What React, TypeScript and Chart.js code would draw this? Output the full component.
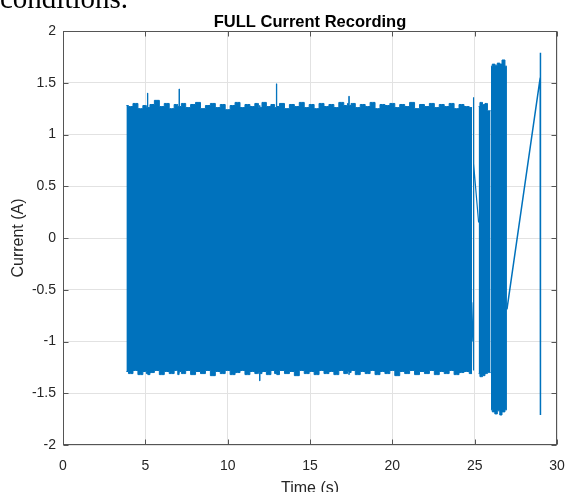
import React, { useEffect, useRef } from "react";
import { Chart, registerables } from "chart.js";

Chart.register(...registerables);

// Main oscillation block: sample times (s) with upper/lower envelope of the current (A)
const timesA = [
  3.85, 4.1, 4.4, 4.7, 5.0, 5.12, 5.14, 5.16, 5.4, 5.7, 6.0, 6.3, 6.6, 6.9, 7.04, 7.06, 7.08, 7.3, 7.6, 7.9,
  8.2, 8.5, 8.8, 9.1, 9.4, 9.7, 10.0, 10.3, 10.6, 10.9, 11.2, 11.5, 11.8, 11.93, 11.95, 11.97, 12.2, 12.5, 12.75, 12.95,
  12.97, 12.99, 13.3, 13.6, 13.9, 14.2, 14.5, 14.8, 15.1, 15.4, 15.7, 16.0, 16.3, 16.6, 16.9, 17.2, 17.35, 17.37, 17.39, 17.6,
  17.9, 18.2, 18.5, 18.8, 19.1, 19.4, 19.7, 20.0, 20.3, 20.6, 20.9, 21.2, 21.5, 21.8, 22.1, 22.4, 22.7, 23.0, 23.3, 23.6,
  23.9, 24.2, 24.5, 24.84,
];
const upperA = [
  1.28, 1.27, 1.3, 1.25, 1.28, 1.26, 1.4, 1.26, 1.29, 1.33, 1.27, 1.3, 1.25, 1.29, 1.27, 1.44, 1.27, 1.3, 1.26, 1.29,
  1.31, 1.25, 1.28, 1.3, 1.26, 1.29, 1.24, 1.28, 1.31, 1.26, 1.29, 1.27, 1.3, 1.26, 1.28, 1.26, 1.31, 1.27, 1.29, 1.26,
  1.49, 1.27, 1.3, 1.25, 1.29, 1.27, 1.31, 1.26, 1.29, 1.25, 1.3, 1.27, 1.29, 1.26, 1.31, 1.28, 1.3, 1.37, 1.28, 1.3,
  1.26, 1.29, 1.27, 1.31, 1.25, 1.29, 1.28, 1.3, 1.26, 1.29, 1.27, 1.31, 1.25, 1.29, 1.27, 1.3, 1.26, 1.29, 1.27, 1.3,
  1.25, 1.29, 1.27, 1.26,
];
const lowerA = [
  -1.29, -1.31, -1.28, -1.32, -1.29, -1.31, -1.28, -1.32, -1.3, -1.28, -1.32, -1.29, -1.31, -1.28, -1.32, -1.3, -1.29, -1.31, -1.28, -1.32,
  -1.29, -1.31, -1.28, -1.33, -1.29, -1.31, -1.28, -1.32, -1.3, -1.28, -1.32, -1.29, -1.31, -1.3, -1.38, -1.31, -1.29, -1.32, -1.28, -1.31,
  -1.29, -1.32, -1.28, -1.31, -1.29, -1.33, -1.28, -1.31, -1.29, -1.32, -1.28, -1.31, -1.29, -1.32, -1.28, -1.31, -1.29, -1.32, -1.3, -1.28,
  -1.32, -1.29, -1.31, -1.28, -1.32, -1.29, -1.31, -1.28, -1.33, -1.29, -1.31, -1.28, -1.32, -1.29, -1.31, -1.28, -1.32, -1.29, -1.31, -1.28,
  -1.32, -1.3, -1.29, -1.31,
];

// Second short block
const timesB = [25.24, 25.4, 25.55, 25.7, 25.85, 25.97];
const upperB = [1.27, 1.31, 1.29, 1.3, 1.23, 1.23];
const lowerB = [-1.31, -1.34, -1.33, -1.31, -1.3, -1.3];

// Third (larger amplitude) block
const timesC = [25.99, 26.15, 26.3, 26.45, 26.6, 26.72, 26.96];
const upperC = [1.66, 1.68, 1.67, 1.69, 1.68, 1.72, 1.66];
const lowerC = [-1.66, -1.68, -1.7, -1.67, -1.71, -1.68, -1.66];

// Thin trace segments
const gapTimes = [24.84, 24.91, 24.92, 24.93, 24.95, 25.24];
const gapValues = [-1.0, -0.62, 1.36, -1.28, 0.72, 0.15];
const tailTimes = [26.96, 28.98, 28.99, 29.0];
const tailValues = [-0.69, 1.55, 1.79, -1.71];

const xTicks = [0, 5, 10, 15, 20, 25, 30];
const yTicks = [-2, -1.5, -1, -0.5, 0, 0.5, 1, 1.5, 2];

const BLUE = "#0072BD";
const FONT = "'Liberation Sans', Arial, Helvetica, sans-serif";

const pts = (ts: number[], vs: number[]) => ts.map((t, i) => ({ x: t, y: vs[i] }));

const boxPlugin = {
  id: "matlabBox",
  afterDatasetsDraw(chart: any) {
    const { ctx, chartArea, scales } = chart;
    const L = Math.round(chartArea.left) + 0.5;
    const R = Math.round(chartArea.right) - 0.5;
    const T = Math.round(chartArea.top) + 0.5;
    const B = Math.round(chartArea.bottom) - 0.5;
    ctx.save();
    ctx.strokeStyle = "#555555";
    ctx.lineWidth = 1;
    ctx.strokeRect(L, T, R - L, B - T);
    ctx.beginPath();
    const tl = 5;
    xTicks.forEach((v) => {
      const px = Math.round(scales.x.getPixelForValue(v)) + 0.5;
      ctx.moveTo(px, B);
      ctx.lineTo(px, B - tl);
      ctx.moveTo(px, T);
      ctx.lineTo(px, T + tl);
    });
    yTicks.forEach((v) => {
      const py = Math.round(scales.y.getPixelForValue(v)) + 0.5;
      ctx.moveTo(L, py);
      ctx.lineTo(L + tl, py);
      ctx.moveTo(R, py);
      ctx.lineTo(R - tl, py);
    });
    ctx.stroke();
    ctx.restore();
  },
};

export default function App() {
  const ref = useRef<HTMLCanvasElement | null>(null);

  useEffect(() => {
    if (!ref.current) return;
    const band = (ts: number[], up: number[], lo: number[]) => [
      {
        data: pts(ts, up),
        borderColor: BLUE,
        backgroundColor: BLUE,
        borderWidth: 1,
        pointRadius: 0,
        fill: "+1",
        stepped: "middle",
      },
      {
        data: pts(ts, lo),
        borderColor: BLUE,
        backgroundColor: BLUE,
        borderWidth: 1,
        pointRadius: 0,
        fill: false,
        stepped: "middle",
      },
    ];
    const chart = new Chart(ref.current, {
      type: "line",
      data: {
        datasets: [
          ...band(timesA, upperA, lowerA),
          ...band(timesB, upperB, lowerB),
          ...band(timesC, upperC, lowerC),
          {
            data: pts(gapTimes, gapValues),
            borderColor: BLUE,
            borderWidth: 1.2,
            pointRadius: 0,
            fill: false,
            tension: 0,
          },
          {
            data: pts(tailTimes, tailValues),
            borderColor: BLUE,
            borderWidth: 1.5,
            pointRadius: 0,
            fill: false,
            tension: 0,
          },
        ] as any,
      },
      options: {
        animation: false,
        responsive: false,
        devicePixelRatio: 1,
        layout: { padding: { left: 0, right: 10, top: 0, bottom: 0 } },
        plugins: {
          legend: { display: false },
          tooltip: { enabled: false },
          title: {
            display: true,
            text: "FULL Current Recording",
            fullSize: false,
            color: "#000000",
            font: { family: FONT, size: 16.5, weight: "bold", lineHeight: "18px" } as any,
            padding: { top: 13, bottom: 0 },
          },
        },
        scales: {
          x: {
            type: "linear",
            min: 0,
            max: 30,
            afterBuildTicks: (s: any) => {
              s.ticks = xTicks.map((v) => ({ value: v }));
            },
            afterFit: (s: any) => {
              s.height = 55;
              s.paddingLeft = 0;
              s.paddingRight = 0;
            },
            ticks: {
              color: "#262626",
              padding: 13,
              font: { family: FONT, size: 14 },
              maxRotation: 0,
              callback: (v: any) => String(v),
            },
            grid: { color: "#e2e2e2", drawTicks: false },
            border: { display: false },
            title: {
              display: true,
              text: "Time (s)",
              color: "#262626",
              font: { family: FONT, size: 16 },
              padding: { top: 0, bottom: 2 },
            },
          },
          y: {
            type: "linear",
            min: -2,
            max: 2,
            afterBuildTicks: (s: any) => {
              s.ticks = yTicks.map((v) => ({ value: v }));
            },
            afterFit: (s: any) => {
              s.width = 63;
              s.paddingTop = 0;
              s.paddingBottom = 0;
            },
            ticks: {
              color: "#262626",
              padding: 7,
              font: { family: FONT, size: 14 },
              callback: (v: any) => String(v),
            },
            grid: { color: "#e2e2e2", drawTicks: false },
            border: { display: false },
            title: {
              display: true,
              text: "Current (A)",
              color: "#262626",
              font: { family: FONT, size: 16 },
              padding: { top: 9, bottom: 0 },
            },
          },
        },
      },
      plugins: [boxPlugin],
    });
    return () => chart.destroy();
  }, []);

  return (
    <div
      style={{
        position: "fixed",
        left: 0,
        top: 0,
        width: 567,
        height: 492,
        overflow: "hidden",
        background: "#ffffff",
      }}
    >
      <canvas ref={ref} width={567} height={500} style={{ position: "absolute", left: 0, top: 0 }} />
      <div
        style={{
          position: "absolute",
          left: 0,
          top: -16,
          fontFamily: "'Liberation Serif', 'Times New Roman', serif",
          fontSize: 29,
          lineHeight: "29px",
          color: "#000000",
          whiteSpace: "nowrap",
        }}
      >
        conditions.
      </div>
    </div>
  );
}
